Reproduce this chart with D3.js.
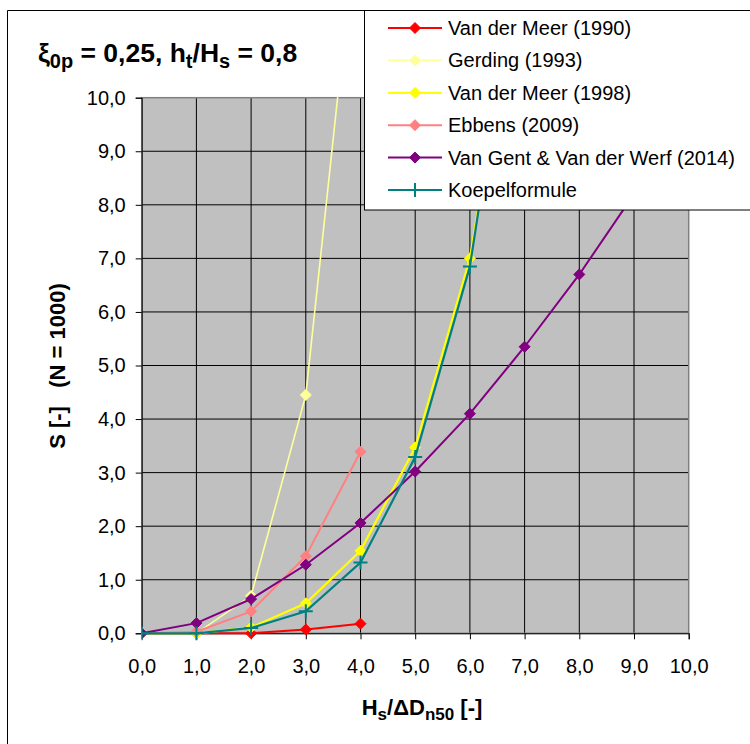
<!DOCTYPE html>
<html lang="en">
<head>
<meta charset="utf-8">
<script src="https://d3js.org/d3.v7.min.js"></script>
<style>
  body { margin: 0; background: #fff; }
  svg { font-family: "Liberation Sans", Arial, sans-serif; }
</style>
</head>
<body>
<svg id="chart" width="750" height="744"></svg>
<script>
  // values
  var xValues = [0, 1, 2, 3, 4, 5, 6, 7, 8, 9, 10];
  var vanDerMeer1990 = [0, 0, 0, 0.07, 0.18];
  var gerding1993 = [0, 0, 0.70, 4.45, 14.0];
  var vanDerMeer1998 = [0, 0, 0.11, 0.56, 1.54, 3.47, 7.0, 13.1];
  var ebbens2009 = [0, 0.03, 0.41, 1.44, 3.39];
  var vanGent2014 = [0, 0.19, 0.64, 1.28, 2.06, 3.02, 4.1, 5.35, 6.7, 8.2, 9.8];
  var koepel = [0, 0, 0.1, 0.41, 1.32, 3.29, 6.85, 13.5];

  var seriesNames = ["Van der Meer (1990)", "Gerding (1993)", "Van der Meer (1998)",
    "Ebbens (2009)", "Van Gent & Van der Werf (2014)", "Koepelformule"];
  var seriesValues = [vanDerMeer1990, gerding1993, vanDerMeer1998, ebbens2009, vanGent2014, koepel];
  var seriesColors = ["#ff0000", "#ffff99", "#ffff00", "#ff8080", "#800080", "#008080"];
  var seriesMarkers = ["diamond", "diamond", "diamond", "diamond", "diamond", "plus"];
  var seriesWidths = [2, 1.6, 2.2, 2, 2, 2.2];

  var xTicks = [0, 1, 2, 3, 4, 5, 6, 7, 8, 9, 10];
  var yTicks = [0, 1, 2, 3, 4, 5, 6, 7, 8, 9, 10];

  var svg = d3.select("#chart");
  var pLeft = 141.7, pRight = 688.7, pTop = 97.7, pBottom = 633.3;
  var x = d3.scaleLinear().domain([0, 10]).range([pLeft, pRight]);
  var y = d3.scaleLinear().domain([0, 10]).range([pBottom, pTop]);
  var fmt = function (d) { return d3.format(".1f")(d).replace(".", ","); };

  // chart frame
  svg.append("path")
    .attr("d", "M7.5,760 V10.5 H760")
    .attr("fill", "none").attr("stroke", "#000").attr("stroke-width", 1);

  // plot area
  svg.append("rect")
    .attr("x", pLeft).attr("y", pTop)
    .attr("width", pRight - pLeft).attr("height", pBottom - pTop)
    .attr("fill", "#c0c0c0");

  svg.append("g").selectAll("line").data(xTicks.slice(1, -1)).enter().append("line")
    .attr("x1", function (d) { return x(d); }).attr("x2", function (d) { return x(d); })
    .attr("y1", pTop).attr("y2", pBottom)
    .attr("stroke", "#000").attr("stroke-width", 1);
  svg.append("g").selectAll("line").data(yTicks.slice(1, -1)).enter().append("line")
    .attr("x1", pLeft).attr("x2", pRight)
    .attr("y1", function (d) { return y(d); }).attr("y2", function (d) { return y(d); })
    .attr("stroke", "#000").attr("stroke-width", 1);

  svg.append("rect")
    .attr("x", pLeft).attr("y", pTop)
    .attr("width", pRight - pLeft).attr("height", pBottom - pTop)
    .attr("fill", "none").attr("stroke", "#808080").attr("stroke-width", 1.5);

  // axes
  var yAxis = svg.append("g")
    .attr("transform", "translate(" + pLeft + ",0)")
    .call(d3.axisLeft(y).tickValues(yTicks).tickFormat(fmt).tickSize(6).tickPadding(10));
  var xAxis = svg.append("g")
    .attr("transform", "translate(0," + pBottom + ")")
    .call(d3.axisBottom(x).tickValues(xTicks).tickFormat(fmt).tickSize(6).tickPadding(20));
  [xAxis, yAxis].forEach(function (g) {
    g.select(".domain").attr("stroke", "#000");
    g.selectAll(".tick line").attr("stroke", "#000");
    g.selectAll("text").attr("font-size", 20).attr("fill", "#000")
      .attr("font-family", "Liberation Sans, Arial, sans-serif");
  });

  // series
  svg.append("clipPath").attr("id", "plotClip").append("rect")
    .attr("x", pLeft).attr("y", pTop - 1).attr("width", pRight - pLeft).attr("height", pBottom - pTop + 10);

  var line = d3.line()
    .x(function (d, i) { return x(xValues[i]); })
    .y(function (d) { return y(d); });

  function drawMarker(g, type, color, cx, cy) {
    if (type === "diamond") {
      g.append("path")
        .attr("d", "M" + cx + "," + (cy - 5.5) + " L" + (cx + 5.5) + "," + cy + " L" + cx + "," + (cy + 5.5) + " L" + (cx - 5.5) + "," + cy + "Z")
        .attr("fill", color).attr("stroke", color).attr("stroke-width", 1);
    } else {
      g.append("path")
        .attr("d", "M" + (cx - 7) + "," + cy + " H" + (cx + 7) + " M" + cx + "," + (cy - 7) + " V" + (cy + 7))
        .attr("fill", "none").attr("stroke", color).attr("stroke-width", 2);
    }
  }

  var plot = svg.append("g").attr("clip-path", "url(#plotClip)");
  seriesValues.forEach(function (vals, s) {
    var g = plot.append("g");
    g.append("path").datum(vals)
      .attr("d", line)
      .attr("fill", "none")
      .attr("stroke", seriesColors[s])
      .attr("stroke-width", seriesWidths[s]);
    vals.forEach(function (v, i) {
      if (v <= 10) drawMarker(g, seriesMarkers[s], seriesColors[s], x(xValues[i]), y(v));
    });
  });

  // title
  var title = svg.append("text")
    .attr("x", 38).attr("y", 62)
    .attr("font-size", 26.5).attr("font-weight", "bold");
  title.append("tspan").text("ξ");
  title.append("tspan").attr("dy", 6).attr("font-size", 20).text("0p");
  title.append("tspan").attr("dy", -6).text(" = 0,25, h");
  title.append("tspan").attr("dy", 6).attr("font-size", 20).text("t");
  title.append("tspan").attr("dy", -6).text("/H");
  title.append("tspan").attr("dy", 6).attr("font-size", 20).text("s");
  title.append("tspan").attr("dy", -6).text(" = 0,8");

  // axis titles
  var xt = svg.append("text")
    .attr("x", 422).attr("y", 715)
    .attr("text-anchor", "middle")
    .attr("font-size", 22).attr("font-weight", "bold");
  xt.append("tspan").text("H");
  xt.append("tspan").attr("dy", 5).attr("font-size", 17).text("s");
  xt.append("tspan").attr("dy", -5).text("/ΔD");
  xt.append("tspan").attr("dy", 5).attr("font-size", 17).text("n50");
  xt.append("tspan").attr("dy", -5).text(" [-]");

  svg.append("text")
    .attr("transform", "translate(65,366) rotate(-90)")
    .attr("text-anchor", "middle")
    .attr("font-size", 22).attr("font-weight", "bold")
    .style("white-space", "pre")
    .text("S [-]   (N = 1000)");

  // legend
  var lg = svg.append("g");
  lg.append("rect")
    .attr("x", 364.5).attr("y", 10.5).attr("width", 420).attr("height", 199.5)
    .attr("fill", "#fff").attr("stroke", "#000").attr("stroke-width", 1);
  seriesNames.forEach(function (name, s) {
    var ly = 28 + s * 32.4;
    lg.append("line")
      .attr("x1", 388).attr("x2", 442).attr("y1", ly).attr("y2", ly)
      .attr("stroke", seriesColors[s]).attr("stroke-width", seriesWidths[s]);
    drawMarker(lg, seriesMarkers[s], seriesColors[s], 415, ly);
    lg.append("text")
      .attr("x", 448).attr("y", ly + 7)
      .attr("font-size", 20)
      .text(name);
  });
</script>
</body>
</html>
